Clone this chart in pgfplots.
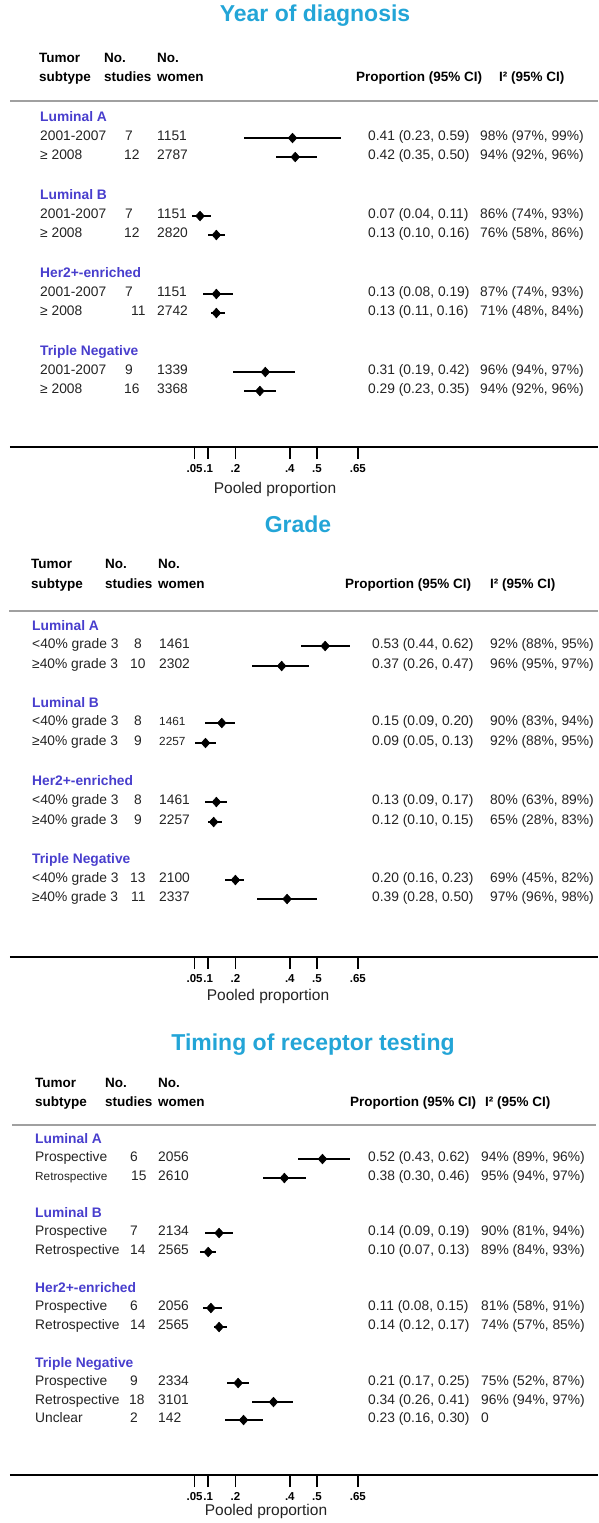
\documentclass[border=0pt]{standalone}
\usepackage{pgfplots}
\pgfplotsset{compat=1.18}
\usepackage{pgfplotstable}
\usepackage{fontspec}
\setmainfont{Liberation Sans}

\definecolor{titlecyan}{RGB}{35,165,215}
\definecolor{subblue}{RGB}{72,62,205}
\definecolor{rulegray}{RGB}{160,160,160}
\definecolor{txt}{RGB}{35,35,35}

% Pooled proportions with 95% CI; y = row position (pt from the top)
\pgfplotstableread{
y    p    lo   hi
-138 0.41 0.23 0.59
-157 0.42 0.35 0.50
-216 0.07 0.04 0.11
-235 0.13 0.10 0.16
-294 0.13 0.08 0.19
-313 0.13 0.11 0.16
-372 0.31 0.19 0.42
-391 0.29 0.23 0.35
}\yeartab

\pgfplotstableread{
y    p    lo   hi
-646 0.53 0.44 0.62
-666 0.37 0.26 0.47
-723 0.15 0.09 0.20
-743 0.09 0.05 0.13
-802 0.13 0.09 0.17
-822 0.12 0.10 0.15
-880 0.20 0.16 0.23
-899 0.39 0.28 0.50
}\gradetab

\pgfplotstableread{
y     p    lo   hi
-1159 0.52 0.43 0.62
-1178 0.38 0.30 0.46
-1233 0.14 0.09 0.19
-1252 0.10 0.07 0.13
-1308 0.11 0.08 0.15
-1327 0.14 0.12 0.17
-1383 0.21 0.17 0.25
-1402 0.34 0.26 0.41
-1420 0.23 0.16 0.30
}\timingtab

\newcommand\rowfont{\fontsize{13.8}{16}\selectfont}
\newcommand\smallrow{\fontsize{11.8}{14}\selectfont}
\newcommand\headfont{\fontsize{13.5}{16}\selectfont\bfseries}

\pgfplotsset{
  forest/.style={
    scale only axis, width=588pt,
    xmin=-0.6287, xmax=1.5331,
    axis x line*=bottom, axis y line=none,
    x axis line style={black, line width=1.4pt},
    xtick={0.05,0.1,0.2,0.4,0.5,0.65},
    xticklabels={.05,.1,.2,.4,.5,.65},
    tick align=outside, major tick length=12pt,
    xtick style={draw=black, line width=1.5pt},
    xticklabel style={font=\fontsize{11.5}{13}\selectfont\bfseries,
      inner sep=1pt, yshift=-4pt},
    clip=false,
  },
  ci/.style={
    black, only marks, mark=diamond*, mark size=4.8pt,
    mark options={solid, fill=black, line width=0.6pt, xscale=1.2},
    error bars/.cd, x dir=both, x explicit, error mark=none,
    error bar style={line width=2.6pt, black},
  },
}

\newcommand\tx[3]{\node[anchor=mid west, inner sep=0pt, text=txt, font=\rowfont] at (#1pt,-#2pt) {#3};}
\newcommand\hd[3]{\node[anchor=mid west, inner sep=0pt, text=black, font=\headfont] at (#1pt,-#2pt) {#3};}
\newcommand\sub[3]{\node[anchor=mid west, inner sep=0pt, text=subblue, font=\fontsize{13.8}{16}\selectfont\bfseries] at (#1pt,-#2pt) {#3};}
\newcommand\ttl[3]{\node[anchor=mid, inner sep=0pt, text=titlecyan, font=\fontsize{23}{26}\selectfont\bfseries] at (#1pt,-#2pt) {#3};}
\newcommand\pooled[2]{\node[anchor=mid, inner sep=0pt, text=txt, font=\fontsize{15.5}{18}\selectfont] at (#1pt,-#2pt) {Pooled proportion};}
% one data row: y, label, x of studies, studies, women, proportion, I^2
\newcommand\drow[7]{\tx{\cLab}{#1}{#2}\tx{#3}{#1}{#4}\tx{\cWom}{#1}{#5}\tx{\cProp}{#1}{#6}\tx{\cIsq}{#1}{#7}}

\begin{document}
\begin{tikzpicture}
\useasboundingbox (0pt,0pt) rectangle (598pt,-1523pt);

%% ---------------- Year of diagnosis ----------------
\ttl{315}{19}{Year of diagnosis}
\hd{39}{60}{Tumor}\hd{39}{79}{subtype}
\hd{104}{60}{No.}\hd{104}{79}{studies}
\hd{157}{60}{No.}\hd{157}{79}{women}
\hd{356}{79}{Proportion (95\% CI)}
\hd{499}{79}{I² (95\% CI)}
\draw[rulegray, line width=1.4pt] (10pt,-101pt) -- (598pt,-101pt);
\def\cLab{40}\def\cWom{157}\def\cProp{368}\def\cIsq{480}
\sub{40}{119}{Luminal A}
\drow{138}{2001-2007}{125}{7}{1151}{0.41 (0.23, 0.59)}{98\% (97\%, 99\%)}
\drow{157}{≥ 2008}{124}{12}{2787}{0.42 (0.35, 0.50)}{94\% (92\%, 96\%)}
\sub{40}{197}{Luminal B}
\drow{216}{2001-2007}{125}{7}{1151}{0.07 (0.04, 0.11)}{86\% (74\%, 93\%)}
\drow{235}{≥ 2008}{124}{12}{2820}{0.13 (0.10, 0.16)}{76\% (58\%, 86\%)}
\sub{40}{275}{Her2+-enriched}
\drow{294}{2001-2007}{125}{7}{1151}{0.13 (0.08, 0.19)}{87\% (74\%, 93\%)}
\drow{313}{≥ 2008}{131}{11}{2742}{0.13 (0.11, 0.16)}{71\% (48\%, 84\%)}
\sub{40}{353}{Triple Negative}
\drow{372}{2001-2007}{125}{9}{1339}{0.31 (0.19, 0.42)}{96\% (94\%, 97\%)}
\drow{391}{≥ 2008}{124}{16}{3368}{0.29 (0.23, 0.35)}{94\% (92\%, 96\%)}
\begin{axis}[forest, at={(10pt,-447pt)}, anchor=south west,
  height=345pt, ymin=-447, ymax=-102]
  \addplot[ci] table[x=p, y=y,
    x error plus expr=\thisrow{hi}-\thisrow{p},
    x error minus expr=\thisrow{p}-\thisrow{lo}] {\yeartab};
\end{axis}
\pooled{275}{491}

%% ---------------- Grade ----------------
\ttl{298}{530}{Grade}
\hd{31}{566}{Tumor}\hd{31}{586}{subtype}
\hd{105}{566}{No.}\hd{105}{586}{studies}
\hd{158}{566}{No.}\hd{158}{586}{women}
\hd{345}{586}{Proportion (95\% CI)}
\hd{490}{586}{I² (95\% CI)}
\draw[rulegray, line width=1.4pt] (9pt,-611pt) -- (598pt,-611pt);
\def\cLab{32}\def\cWom{159}\def\cProp{372}\def\cIsq{490}
\sub{32}{628}{Luminal A}
\drow{646}{<40\% grade 3}{134}{8}{1461}{0.53 (0.44, 0.62)}{92\% (88\%, 95\%)}
\drow{666}{≥40\% grade 3}{130}{10}{2302}{0.37 (0.26, 0.47)}{96\% (95\%, 97\%)}
\sub{32}{705}{Luminal B}
\drow{723}{<40\% grade 3}{134}{8}{{\smallrow 1461}}{0.15 (0.09, 0.20)}{90\% (83\%, 94\%)}
\drow{743}{≥40\% grade 3}{134}{9}{{\smallrow 2257}}{0.09 (0.05, 0.13)}{92\% (88\%, 95\%)}
\sub{32}{783}{Her2+-enriched}
\drow{802}{<40\% grade 3}{134}{8}{1461}{0.13 (0.09, 0.17)}{80\% (63\%, 89\%)}
\drow{822}{≥40\% grade 3}{134}{9}{2257}{0.12 (0.10, 0.15)}{65\% (28\%, 83\%)}
\sub{32}{861}{Triple Negative}
\drow{880}{<40\% grade 3}{130}{13}{2100}{0.20 (0.16, 0.23)}{69\% (45\%, 82\%)}
\drow{899}{≥40\% grade 3}{131}{11}{2337}{0.39 (0.28, 0.50)}{97\% (96\%, 98\%)}
\begin{axis}[forest, at={(10pt,-957pt)}, anchor=south west,
  height=345pt, ymin=-957, ymax=-612]
  \addplot[ci] table[x=p, y=y,
    x error plus expr=\thisrow{hi}-\thisrow{p},
    x error minus expr=\thisrow{p}-\thisrow{lo}] {\gradetab};
\end{axis}
\pooled{268}{998}

%% ---------------- Timing of receptor testing ----------------
\ttl{313}{1048}{Timing of receptor testing}
\hd{35}{1085}{Tumor}\hd{35}{1104}{subtype}
\hd{105}{1085}{No.}\hd{105}{1104}{studies}
\hd{158}{1085}{No.}\hd{158}{1104}{women}
\hd{350}{1104}{Proportion (95\% CI)}
\hd{485}{1104}{I² (95\% CI)}
\draw[rulegray, line width=1.4pt] (12pt,-1125pt) -- (596pt,-1125pt);
\def\cLab{35}\def\cWom{158}\def\cProp{368}\def\cIsq{481}
\sub{35}{1141}{Luminal A}
\drow{1159}{Prospective}{130}{6}{2056}{0.52 (0.43, 0.62)}{94\% (89\%, 96\%)}
\drow{1178}{{\smallrow Retrospective}}{131}{15}{2610}{0.38 (0.30, 0.46)}{95\% (94\%, 97\%)}
\sub{35}{1215}{Luminal B}
\drow{1233}{Prospective}{130}{7}{2134}{0.14 (0.09, 0.19)}{90\% (81\%, 94\%)}
\drow{1252}{Retrospective}{130}{14}{2565}{0.10 (0.07, 0.13)}{89\% (84\%, 93\%)}
\sub{35}{1290}{Her2+-enriched}
\drow{1308}{Prospective}{130}{6}{2056}{0.11 (0.08, 0.15)}{81\% (58\%, 91\%)}
\drow{1327}{Retrospective}{130}{14}{2565}{0.14 (0.12, 0.17)}{74\% (57\%, 85\%)}
\sub{35}{1365}{Triple Negative}
\drow{1383}{Prospective}{130}{9}{2334}{0.21 (0.17, 0.25)}{75\% (52\%, 87\%)}
\drow{1402}{Retrospective}{129}{18}{3101}{0.34 (0.26, 0.41)}{96\% (94\%, 97\%)}
\drow{1420}{Unclear}{130}{2}{142}{0.23 (0.16, 0.30)}{0}
\begin{axis}[forest, at={(10pt,-1475pt)}, anchor=south west,
  height=350pt, ymin=-1475, ymax=-1125]
  \addplot[ci] table[x=p, y=y,
    x error plus expr=\thisrow{hi}-\thisrow{p},
    x error minus expr=\thisrow{p}-\thisrow{lo}] {\timingtab};
\end{axis}
\pooled{266}{1513}
\end{tikzpicture}
\end{document}
